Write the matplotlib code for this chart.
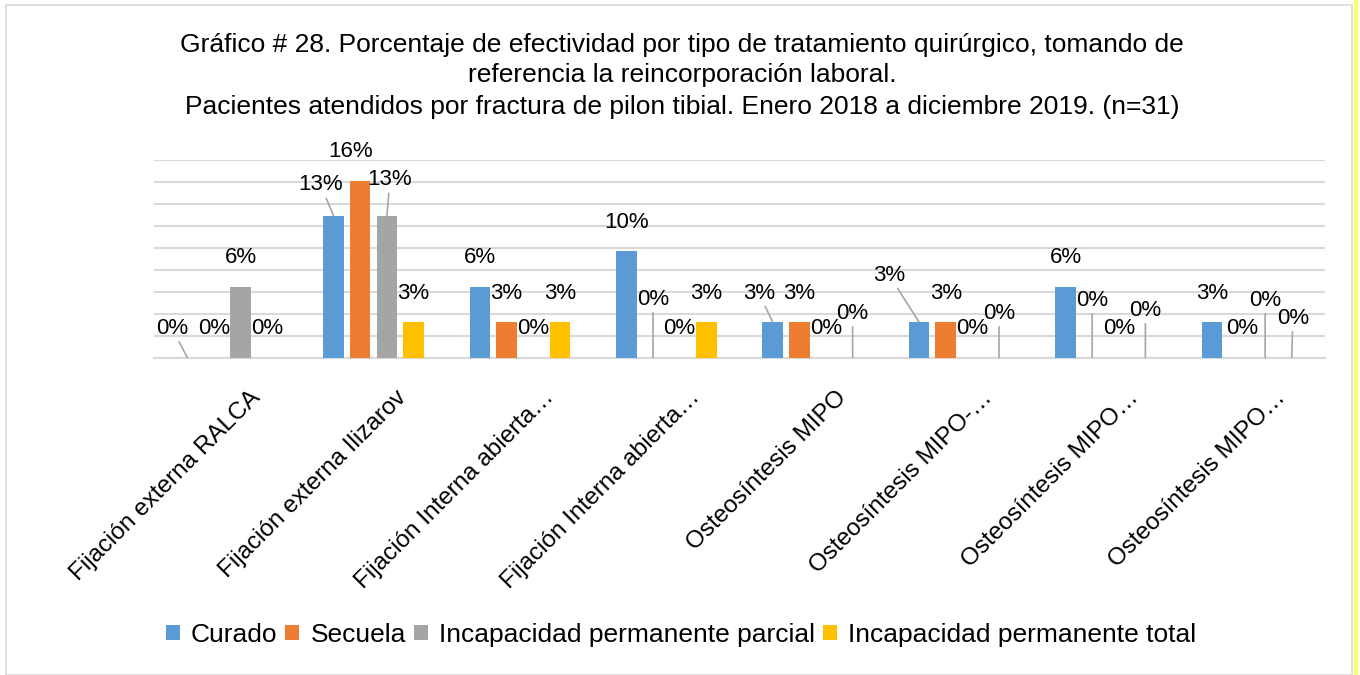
import numpy as np
import matplotlib
matplotlib.use("Agg")
from matplotlib import pyplot as plt
import matplotlib.transforms as mtransforms
from matplotlib.patches import Rectangle
from matplotlib.lines import Line2D

plt.rcParams['font.family'] = ['Liberation Sans', 'DejaVu Sans']

# data (percent of n=31)
categories = ["Fijación externa RALCA", "Fijación externa Ilizarov",
              "Fijación Interna abierta…", "Fijación Interna abierta…",
              "Osteosíntesis MIPO", "Osteosíntesis MIPO-…",
              "Osteosíntesis MIPO…", "Osteosíntesis MIPO…"]
series_names = ["Curado", "Secuela", "Incapacidad permanente parcial",
                "Incapacidad permanente total"]
curado = [0, 12.9, 6.45, 9.68, 3.23, 3.23, 6.45, 3.23]
secuela = [0, 16.1, 3.23, 0, 3.23, 3.23, 0, 0]
inc_parcial = [6.45, 12.9, 0, 0, 0, 0, 0, 0]
inc_total = [0, 3.23, 3.23, 3.23, 0, 0, 0, 0]
colors = ['#5B9BD5', '#ED7D31', '#A5A5A5', '#FFC000']

title_lines = [
    "Gráfico # 28. Porcentaje de efectividad por tipo de tratamiento quirúrgico, tomando de",
    "referencia la reincorporación laboral.",
    "Pacientes atendidos por fractura de pilon tibial. Enero 2018 a diciembre 2019. (n=31)",
]

# label placement tweaks (dx, dy in px, leader line) like excel's moved labels
label_moves = [
    {0: (-15, 0, True), 1: (-13, 2, True), 4: (-14, 0, True), 5: (-30, 18, True)},
    {1: (-10, 0, False), 3: (0, 29, True), 6: (0, 28, True), 7: (4, 0, False)},
    {1: (3, 7, True), 7: (0, 28, True)},
    {4: (0, 15, True), 5: (0, 15, True), 6: (0, 18, True), 7: (1, 10, True)},
]

W, H = 1360, 675
fig = plt.figure(figsize=(W / 100, H / 100), dpi=100)
fig.add_artist(Rectangle((6 / W, 0), 1346 / W, 670 / H, transform=fig.transFigure,
                         fill=False, edgecolor='#d9d9d9', lw=1.2))
fig.add_artist(Line2D([1356 / W, 1356 / W], [0, 1], transform=fig.transFigure,
                      color='#ffff66', lw=3))

ax = fig.add_axes([154 / W, (H - 357.5) / H, 1171 / W, 197.5 / H])

x = np.arange(len(categories))
bw = 0.14
step = 0.182
all_series = [curado, secuela, inc_parcial, inc_total]
for i, (vals, name, c) in enumerate(zip(all_series, series_names, colors)):
    xs = x + (i - 1.5) * step
    ax.bar(xs, vals, width=bw, color=c, label=name, zorder=3)
    for j, v in enumerate(vals):
        dx, dy, leader = label_moves[i].get(j, (0, 0, False))
        arrow = None
        if leader:
            arrow = dict(arrowstyle='-', color='#a6a6a6', lw=1.2,
                         shrinkA=0, shrinkB=0)
        ax.annotate(f"{v:.0f}%", xy=(xs[j], v), xytext=(dx, 29 + dy),
                    textcoords='offset pixels', ha='center', va='center',
                    fontsize=16, color='#000000', arrowprops=arrow, zorder=5)

ax.set_xlim(-0.5, 7.5)
ax.set_ylim(0, 18)
ax.set_yticks(np.arange(0, 19, 2))
ax.yaxis.grid(True, color='#d9d9d9', lw=1.5, zorder=0)
ax.tick_params(axis='y', left=False, labelleft=False)
for s in ['top', 'right', 'left']:
    ax.spines[s].set_visible(False)
ax.spines['bottom'].set_color('#d9d9d9')
ax.spines['bottom'].set_linewidth(1.5)

ax.set_xticks(x, categories, rotation=45, ha='right', va='center',
              rotation_mode='anchor', fontsize=17.5)
ax.tick_params(axis='x', length=0, pad=0)
off = mtransforms.ScaledTranslation(30 / 100, -37 / 100, fig.dpi_scale_trans)
for lbl in ax.get_xticklabels():
    lbl.set_transform(lbl.get_transform() + off)

for line, yy in zip(title_lines, [45, 75, 107]):
    fig.text(682 / W, 1 - yy / H, line, ha='center', va='center', fontsize=19)

fig.legend(loc='center', bbox_to_anchor=(681 / W, 1 - 635 / H), ncol=4,
           frameon=False, fontsize=19, handlelength=0.53, handleheight=0.53,
           handletextpad=0.42, columnspacing=0.3)

fig.savefig("out.png", dpi=100)
